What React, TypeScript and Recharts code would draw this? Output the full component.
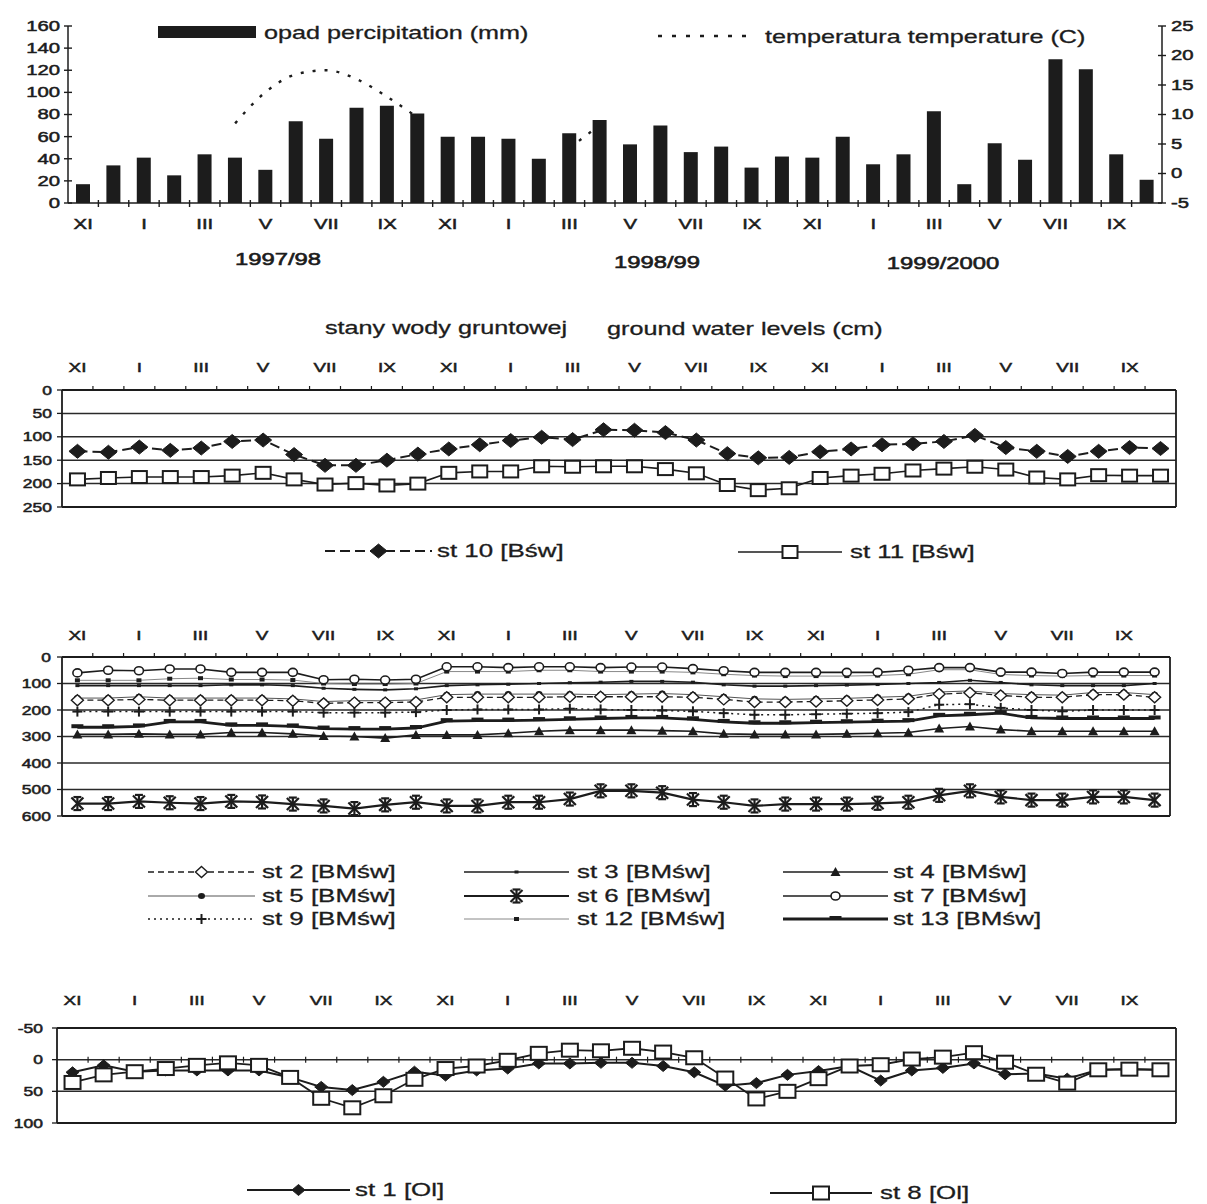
import React from 'react';
import { ComposedChart, Bar, Line, XAxis, YAxis, CartesianGrid, ReferenceLine } from 'recharts';

const months = ['XI','XII','I','II','III','IV','V','VI','VII','VIII','IX','X',
  'XI','XII','I','II','III','IV','V','VI','VII','VIII','IX','X',
  'XI','XII','I','II','III','IV','V','VI','VII','VIII','IX','X'];

const precipitation = [17, 34, 41, 25, 44, 41, 30, 74, 58, 86, 88, 81, 60, 60, 58, 40, 63, 75, 53, 70, 46, 51, 32, 42, 41, 60, 35, 44, 83, 17, 54, 39, 130, 121, 44, 21];
const temperature: (number | null)[] = [null, null, null, null, null, 8.5, 13.8, 16.8, 17.5, 16, 13, 9.5, null, null, null, null, 4.3, 8.2, null, null, null, null, null, null, null, null, null, null, null, null, null, null, null, null, null, null];

const st10 = [131, 133, 122, 129, 124, 110, 107, 138, 161, 161, 150, 137, 126, 117, 108, 101, 106, 85, 86, 91, 107, 136, 145, 144, 132, 126, 117, 115, 110, 97, 123, 131, 142, 131, 123, 125];
const st11 = [191, 188, 186, 186, 186, 183, 177, 191, 202, 199, 204, 200, 177, 174, 174, 163, 164, 163, 163, 169, 178, 203, 214, 210, 188, 183, 179, 172, 168, 164, 170, 187, 191, 182, 183, 183];

const st2 = [163, 163, 160, 163, 163, 163, 163, 165, 175, 172, 172, 170, 152, 152, 152, 152, 150, 150, 150, 150, 152, 160, 170, 170, 168, 165, 162, 158, 140, 135, 145, 152, 152, 142, 142, 152];
const st3 = [108, 108, 108, 108, 108, 105, 105, 108, 118, 122, 124, 120, 108, 105, 103, 100, 97, 95, 92, 92, 95, 105, 110, 110, 108, 106, 104, 100, 96, 88, 96, 105, 108, 108, 108, 100];
const st4 = [292, 292, 290, 292, 292, 285, 285, 290, 298, 300, 306, 294, 294, 294, 288, 280, 276, 276, 276, 278, 280, 290, 292, 292, 292, 290, 288, 285, 270, 262, 274, 280, 280, 280, 280, 280];
const st5 = [155, 155, 150, 155, 155, 155, 155, 158, 168, 165, 165, 162, 142, 140, 140, 140, 140, 142, 140, 138, 142, 150, 158, 160, 158, 156, 152, 148, 132, 128, 138, 142, 144, 134, 134, 142];
const st6 = [553, 553, 545, 550, 553, 545, 547, 555, 562, 572, 558, 548, 562, 562, 548, 548, 536, 505, 505, 512, 538, 548, 562, 555, 555, 555, 552, 548, 522, 505, 528, 540, 540, 528, 528, 540];
const st7 = [60, 50, 52, 45, 45, 58, 58, 58, 86, 84, 87, 84, 37, 37, 40, 37, 37, 40, 38, 38, 44, 52, 58, 58, 58, 58, 58, 50, 40, 40, 57, 57, 62, 57, 57, 57];
const st9 = [206, 206, 206, 206, 206, 206, 206, 206, 210, 210, 210, 208, 200, 198, 198, 198, 195, 198, 200, 202, 205, 212, 218, 218, 216, 214, 212, 208, 180, 178, 192, 200, 205, 200, 200, 200];
const st12 = [88, 88, 88, 82, 80, 85, 85, 87, 100, 102, 102, 100, 55, 55, 55, 50, 50, 55, 55, 55, 58, 65, 70, 72, 72, 72, 70, 65, 48, 48, 66, 70, 72, 70, 70, 70];
const st13 = [265, 265, 262, 245, 245, 258, 258, 262, 270, 272, 272, 268, 242, 240, 240, 238, 235, 232, 230, 230, 235, 245, 250, 250, 248, 246, 244, 242, 222, 218, 212, 230, 232, 232, 232, 232];

const st1 = [20, 9, 19, 17, 17, 17, 17, 28, 43, 48, 35, 19, 25, 17, 14, 6, 6, 5, 5, 10, 20, 41, 37, 24, 18, 10, 33, 17, 13, 6, 23, 22, 30, 16, 15, 16];
const st8 = [36, 24, 19, 14, 9, 5, 9, 28, 61, 76, 57, 31, 14, 10, 1, -10, -15, -14, -18, -12, -3, 29, 62, 50, 30, 10, 8, -1, -4, -11, 4, 23, 37, 16, 15, 16];

const precipTicks = [0, 20, 40, 60, 80, 100, 120, 140, 160];
const tempTicks = [-5, 0, 5, 10, 15, 20, 25];
const gwTicksA = [0, 50, 100, 150, 200, 250];
const gwTicksB = [0, 100, 200, 300, 400, 500, 600];
const gwTicksC = [-50, 0, 50, 100];
const yearLabels = ['1997/98', '1998/99', '1999/2000'];

const rows = months.map((m, i) => ({
  x: i + 0.5, m,
  p: precipitation[i], t: temperature[i],
  st10: st10[i], st11: st11[i],
  st2: st2[i], st3: st3[i], st4: st4[i], st5: st5[i], st6: st6[i], st7: st7[i], st9: st9[i], st12: st12[i], st13: st13[i],
  st1: st1[i], st8: st8[i],
}));

const xTicks = months.flatMap((_, i) => (i === 0 ? [i + 0.5] : [i, i + 0.5]));

const INK = '#1c1c1c';
const FONT = "'Liberation Sans', Arial, Helvetica, sans-serif";
const SX = 1.4;

function T({ x, y, children, anchor = 'start', fs = 18, sx = SX, w = 0.3 }: any) {
  return (
    <text transform={`translate(${x},${y}) scale(${sx},1)`} textAnchor={anchor} dominantBaseline="central"
      fontSize={fs} fontFamily={FONT} fill={INK} stroke={INK} strokeWidth={w}>{children}</text>
  );
}

const dia = (cx: number, cy: number, w: number, h: number) => `M${cx} ${cy - h}L${cx + w} ${cy}L${cx} ${cy + h}L${cx - w} ${cy}Z`;

function Marker({ kind, cx, cy }: { kind: string; cx: number; cy: number }) {
  if (cx == null || cy == null || Number.isNaN(cx) || Number.isNaN(cy)) return <g />;
  switch (kind) {
    case 'dia10': return <path d={dia(cx, cy, 8.5, 7)} fill={INK} stroke={INK} strokeWidth={1} />;
    case 'sq11': return <rect x={cx - 7.5} y={cy - 6} width={15} height={12} fill="#fff" stroke={INK} strokeWidth={2} />;
    case 'dia1': return <path d={dia(cx, cy, 6.5, 5.5)} fill={INK} stroke={INK} strokeWidth={1} />;
    case 'sq8': return <rect x={cx - 8} y={cy - 6.5} width={16} height={13} fill="#fff" stroke={INK} strokeWidth={2} />;
    case 'odia': return <path d={dia(cx, cy, 6, 5.5)} fill="#fff" stroke={INK} strokeWidth={1.4} />;
    case 'tick': return <rect x={cx - 2} y={cy - 1.5} width={4} height={3} fill={INK} />;
    case 'tri': return <path d={`M${cx} ${cy - 5}L${cx + 5} ${cy + 4}L${cx - 5} ${cy + 4}Z`} fill={INK} />;
    case 'dot': return <ellipse cx={cx} cy={cy} rx={3.5} ry={3} fill={INK} />;
    case 'ast': return (
      <g stroke={INK} strokeWidth={2.2}>
        <line x1={cx - 6} y1={cy - 6} x2={cx + 6} y2={cy + 6} />
        <line x1={cx - 6} y1={cy + 6} x2={cx + 6} y2={cy - 6} />
        <line x1={cx} y1={cy - 7} x2={cx} y2={cy + 7} />
        <line x1={cx - 4} y1={cy - 6.5} x2={cx + 4} y2={cy - 6.5} />
        <line x1={cx - 4} y1={cy + 6.5} x2={cx + 4} y2={cy + 6.5} />
      </g>
    );
    case 'ocirc': return <ellipse cx={cx} cy={cy} rx={4.5} ry={4} fill="#fff" stroke={INK} strokeWidth={1.6} />;
    case 'plus': return (
      <g stroke={INK} strokeWidth={2}>
        <line x1={cx - 5} y1={cy} x2={cx + 5} y2={cy} />
        <line x1={cx} y1={cy - 5} x2={cx} y2={cy + 5} />
      </g>
    );
    case 'ssq': return <rect x={cx - 2.5} y={cy - 2} width={5} height={4} fill={INK} />;
    case 'bar': return <rect x={cx - 6} y={cy - 3} width={12} height={4} fill={INK} />;
    default: return <g />;
  }
}

const dotOf = (kind: string) => (p: any) => <Marker key={`${kind}-${p.index}`} kind={kind} cx={p.cx} cy={p.cy} />;

const XTickBottom = (props: any) => {
  const { x, y, payload } = props;
  const v = payload.value;
  if (Number.isInteger(v)) return <line x1={x} x2={x} y1={y - 3} y2={y + 4} stroke={INK} strokeWidth={1.4} />;
  const i = Math.round(v - 0.5);
  if (i % 2) return <g />;
  return <T x={x} y={y + 21} anchor="middle" fs={14.5} w={0.5}>{months[i]}</T>;
};

const topTick = (labelDy: number, m0: number, m1: number) => (props: any) => {
  const { x, y, payload } = props;
  const v = payload.value;
  if (Number.isInteger(v)) return <line x1={x} x2={x} y1={y + m0} y2={y + m1} stroke={INK} strokeWidth={1.2} />;
  const i = Math.round(v - 0.5);
  if (i % 2) return <g />;
  return <T x={x} y={y + labelDy} anchor="middle" fs={13.5} w={0.5}>{months[i]}</T>;
};

const YTickL = (props: any) => {
  const { x, y, payload } = props;
  return (
    <g>
      <line x1={x - 4} x2={x + 4} y1={y} y2={y} stroke={INK} strokeWidth={1.4} />
      <T x={x - 8} y={y} anchor="end" fs={14.5} w={0.5}>{payload.value}</T>
    </g>
  );
};
const YTickR = (props: any) => {
  const { x, y, payload } = props;
  return (
    <g>
      <line x1={x - 4} x2={x + 4} y1={y} y2={y} stroke={INK} strokeWidth={1.4} />
      <T x={x + 9} y={y} anchor="start" fs={14.5} w={0.5}>{payload.value}</T>
    </g>
  );
};
const yTickSmall = (gap: number) => (props: any) => {
  const { x, y, payload } = props;
  return (
    <g>
      <line x1={x - 5} x2={x} y1={y} y2={y} stroke={INK} strokeWidth={1.3} />
      <T x={x - gap} y={y} anchor="end" fs={12.5} w={0.5}>{payload.value}</T>
    </g>
  );
};

const p2Series = [
  { key: 'st10', label: 'st 10 [Bśw]', kind: 'dia10', width: 2, dash: '10 5', color: INK },
  { key: 'st11', label: 'st 11 [Bśw]', kind: 'sq11', width: 1.6, dash: undefined, color: INK },
];

const p3Series = [
  { key: 'st2', label: 'st 2 [BMśw]', kind: 'odia', width: 1.3, dash: '6 4', color: INK },
  { key: 'st3', label: 'st 3 [BMśw]', kind: 'tick', width: 1.6, dash: undefined, color: INK },
  { key: 'st4', label: 'st 4 [BMśw]', kind: 'tri', width: 1.6, dash: undefined, color: INK },
  { key: 'st5', label: 'st 5 [BMśw]', kind: 'dot', width: 1, dash: undefined, color: '#555' },
  { key: 'st6', label: 'st 6 [BMśw]', kind: 'ast', width: 2.2, dash: undefined, color: INK },
  { key: 'st7', label: 'st 7 [BMśw]', kind: 'ocirc', width: 1.6, dash: undefined, color: INK },
  { key: 'st9', label: 'st 9 [BMśw]', kind: 'plus', width: 1.5, dash: '2 4', color: INK },
  { key: 'st12', label: 'st 12 [BMśw]', kind: 'ssq', width: 1, dash: undefined, color: '#888' },
  { key: 'st13', label: 'st 13 [BMśw]', kind: 'bar', width: 2.8, dash: undefined, color: INK },
];
const p3DrawOrder = ['st6', 'st4', 'st13', 'st9', 'st5', 'st2', 'st3', 'st12', 'st7'];

const p4Series = [
  { key: 'st1', label: 'st 1 [Ol]', kind: 'dia1', width: 2, dash: undefined, color: INK },
  { key: 'st8', label: 'st 8 [Ol]', kind: 'sq8', width: 1.8, dash: undefined, color: INK },
];

function Panel1() {
  return (
    <ComposedChart width={1207} height={290} data={rows} margin={{ top: 26, right: 0, bottom: 0, left: 0 }}>
      <XAxis type="number" dataKey="x" domain={[0, 36]} ticks={xTicks} interval={0} height={87}
        tick={XTickBottom} tickLine={false} tickSize={0} tickMargin={0}
        axisLine={{ stroke: INK, strokeWidth: 1.5 }} />
      <YAxis yAxisId="p" domain={[0, 160]} ticks={precipTicks} interval={0} width={68}
        tick={YTickL} tickLine={false} tickSize={0} tickMargin={0} axisLine={{ stroke: INK, strokeWidth: 1.5 }} />
      <YAxis yAxisId="t" orientation="right" domain={[-5, 25]} ticks={tempTicks} interval={0} width={45}
        tick={YTickR} tickLine={false} tickSize={0} tickMargin={0} axisLine={{ stroke: INK, strokeWidth: 1.5 }} />
      <Bar yAxisId="p" dataKey="p" barSize={14} fill={INK} isAnimationActive={false} />
      <Line yAxisId="t" dataKey="t" type="monotone" stroke={INK} strokeWidth={2.4} strokeDasharray="3 9"
        dot={false} activeDot={false} connectNulls={false} isAnimationActive={false} />
    </ComposedChart>
  );
}

function GWPanel({ height, xH, bottom, right, yW, domain, ticks, labelDy, m0, m1, gap, series, order }: any) {
  const byKey: any = {};
  series.forEach((s: any) => { byKey[s.key] = s; });
  return (
    <ComposedChart width={1207} height={height} data={rows} margin={{ top: 0, right, bottom, left: 0 }}>
      <CartesianGrid vertical={false} stroke="#2a2a2a" strokeWidth={1.5} />
      <XAxis orientation="top" type="number" dataKey="x" domain={[0, 36]} ticks={xTicks} interval={0} height={xH}
        tick={topTick(labelDy, m0, m1)} tickLine={false} tickSize={0} tickMargin={0} axisLine={false} />
      <YAxis reversed domain={domain} ticks={ticks} interval={0} width={yW}
        tick={yTickSmall(gap)} tickLine={false} tickSize={0} tickMargin={0} axisLine={false} />
      <ReferenceLine x={0} stroke={INK} strokeWidth={1.8} ifOverflow="visible" />
      <ReferenceLine x={36} stroke={INK} strokeWidth={1.8} ifOverflow="visible" />
      <ReferenceLine y={domain[0]} stroke={INK} strokeWidth={1.8} ifOverflow="visible" />
      <ReferenceLine y={domain[1]} stroke={INK} strokeWidth={1.8} ifOverflow="visible" />
      {order.map((k: string) => {
        const s = byKey[k];
        return (
          <Line key={k} dataKey={k} type="linear" stroke={s.color} strokeWidth={s.width} strokeDasharray={s.dash}
            dot={dotOf(s.kind)} activeDot={false} isAnimationActive={false} />
        );
      })}
    </ComposedChart>
  );
}

function LegendItem({ s, x1, x2, y, tx, fs = 18.5 }: any) {
  return (
    <g>
      <line x1={x1} x2={x2} y1={y} y2={y} stroke={s.color} strokeWidth={s.width} strokeDasharray={s.dash} />
      <Marker kind={s.kind} cx={(x1 + x2) / 2} cy={y} />
      <T x={tx} y={y} fs={fs}>{s.label}</T>
    </g>
  );
}

function Overlay() {
  const rowsY = [872, 896, 919];
  const cols = [
    { x1: 148, x2: 255, tx: 262 },
    { x1: 464, x2: 569, tx: 577 },
    { x1: 783, x2: 888, tx: 893 },
  ];
  return (
    <svg width={1207} height={1204} style={{ position: 'absolute', left: 0, top: 0, pointerEvents: 'none' }}>
      <rect x={158} y={26} width={98} height={12} fill={INK} />
      <T x={264} y={33} fs={18}>opad percipitation (mm)</T>
      <line x1={658} x2={752} y1={36} y2={36} stroke={INK} strokeWidth={2.5} strokeDasharray="4 10" />
      <T x={765} y={37} fs={18}>temperatura temperature (C)</T>
      <T x={278} y={259} anchor="middle" fs={17} w={0.6}>{yearLabels[0]}</T>
      <T x={657} y={262} anchor="middle" fs={17} w={0.6}>{yearLabels[1]}</T>
      <T x={943} y={263} anchor="middle" fs={17} w={0.6}>{yearLabels[2]}</T>

      <T x={325} y={328} fs={18}>stany wody gruntowej</T>
      <T x={607} y={329} fs={18}>ground water levels (cm)</T>

      <LegendItem s={p2Series[0]} x1={325} x2={432} y={551} tx={437} />
      <LegendItem s={p2Series[1]} x1={738} x2={842} y={552} tx={850} />

      {p3Series.map((s, i) => {
        const c = cols[i % 3];
        return <LegendItem key={s.key} s={s} x1={c.x1} x2={c.x2} y={rowsY[Math.floor(i / 3)]} tx={c.tx} />;
      })}

      <LegendItem s={p4Series[0]} x1={247} x2={350} y={1190} tx={355} />
      <LegendItem s={p4Series[1]} x1={770} x2={872} y={1193} tx={880} />
    </svg>
  );
}

export default function App() {
  return (
    <div style={{ position: 'absolute', left: 0, top: 0, width: 1207, height: 1204, background: '#fff', fontFamily: FONT }}>
      <div style={{ position: 'absolute', left: 0, top: 0 }}>
        <Panel1 />
      </div>
      <div style={{ position: 'absolute', left: 0, top: 340 }}>
        <GWPanel height={180} xH={50} bottom={13} right={31} yW={62} domain={[0, 250]} ticks={gwTicksA}
          labelDy={-23} m0={-4} m1={0} gap={10} series={p2Series} order={['st11', 'st10']} />
      </div>
      <div style={{ position: 'absolute', left: 0, top: 600 }}>
        <GWPanel height={230} xH={57} bottom={14} right={37} yW={62} domain={[0, 600]} ticks={gwTicksB}
          labelDy={-22} m0={-4} m1={0} gap={11} series={p3Series} order={p3DrawOrder} />
      </div>
      <div style={{ position: 'absolute', left: 0, top: 960 }}>
        <GWPanel height={180} xH={68} bottom={17} right={31} yW={57} domain={[-50, 100]} ticks={gwTicksC}
          labelDy={-28} m0={28.7} m1={34.7} gap={14} series={p4Series} order={['st1', 'st8']} />
      </div>
      <Overlay />
    </div>
  );
}
